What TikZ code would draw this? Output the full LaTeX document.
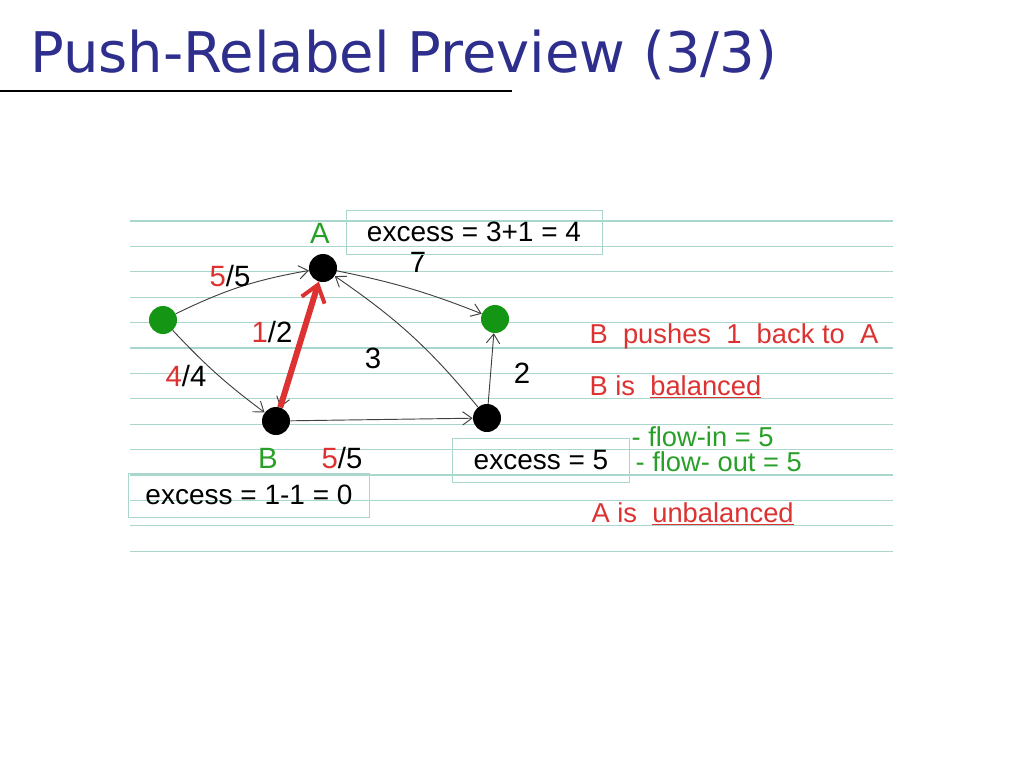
\documentclass[tikz,border=0pt]{standalone}
\usepackage{fontspec}
\setmainfont{Liberation Sans}
\newfontfamily\titlefont{DejaVu Sans}
\newfontfamily\handfont{Liberation Sans}
\usetikzlibrary{arrows.meta}
\definecolor{titleblue}{RGB}{46,46,140}
\definecolor{ruled}{RGB}{170,215,205}
\definecolor{hred}{RGB}{220,50,50}
\definecolor{hgreen}{RGB}{40,160,40}
\definecolor{dgreen}{RGB}{20,150,20}
\begin{document}
\begin{tikzpicture}[x=0.75pt,y=-0.75pt,
  vtx/.style={circle,fill=black,minimum size=21pt,inner sep=0},
  gvtx/.style={circle,fill=dgreen,minimum size=21pt,inner sep=0},
  edge/.style={draw=black!75,line width=0.7pt,-{Straight Barb[length=7pt,width=10pt]}},
  box/.style={draw=ruled,line width=0.6pt,font=\fontsize{21}{24}\selectfont,inner xsep=8pt,minimum height=33pt},
  hand/.style={font=\handfont\fontsize{20.5}{24}\selectfont,inner sep=1pt},
  lab/.style={font=\fontsize{22}{24}\selectfont,inner sep=1pt}]
\useasboundingbox (0,0) rectangle (1024,768);
\node[anchor=base west,text=titleblue,font=\titlefont\fontsize{42}{48}\selectfont,inner sep=0] (title) at (30,72) {Push-Relabel Preview (3/3)};
\draw[line width=1pt] (0,91) -- (512,91);
\foreach \y in {221,246.4,271.8,297.2,322.6,348,373.4,398.8,424.2,449.6,475,500.4,525.8,551.2}
  \draw[ruled,line width=0.8pt] (130,\y) -- (893,\y);
\node[vtx] (A) at (323,268) {};
\node[gvtx] (S) at (163,320) {};
\node[gvtx] (T) at (495,319) {};
\node[vtx] (B) at (276,421) {};
\node[vtx] (C) at (487,418) {};
\draw[edge] (S) to[bend left=8] (A);
\draw[edge] (S) to[bend left=-5] (B);
\draw[edge] (A) to[bend left=5] (T);
\draw[edge] (B) -- (C);
\draw[edge] (C) -- (T);
\draw[edge] (C) to[bend right=8] (A);
\draw[edge] (A) -- (B);
\draw[hred,line width=4.5pt,-{Straight Barb[length=12pt,width=18pt,line width=3pt]}] (B) -- (A);
\node[lab,text=hgreen] (la) at (320,233) {A};
\node[lab,text=hgreen] (lb) at (268,458) {B};
\node[lab] (l55a) at (230,276) {\textcolor{hred}{5}/5};
\node[lab] (l44) at (186,376) {\textcolor{hred}{4}/4};
\node[lab] (l12) at (272,332) {\textcolor{hred}{1}/2};
\node[lab] (l3) at (373,358) {3};
\node[lab] (l7) at (418,262) {7};
\node[lab] (l2) at (522,373) {2};
\node[lab] (l55b) at (342,458) {\textcolor{hred}{5}/5};
\node[box,minimum width=192pt] (bA) at (474,232) {excess = 3+1 = 4};
\node[box,minimum width=133pt] (bC) at (541,460) {excess = 5};
\node[box,minimum width=181pt] (bB) at (249,495) {excess = 1-1 = 0};
\node[hand,text=hred,anchor=west] (t1) at (588,336) {B\ \ pushes\ \ 1\ \ back\ to\ \ A};
\node[hand,text=hred,anchor=west] (t2) at (588,387) {B\ is\ \ \underline{balanced}};
\node[hand,text=hgreen,anchor=west] (t3) at (630,437) {- flow-in = 5};
\node[hand,text=hgreen,anchor=west] (t4) at (634,462) {- flow- out = 5};
\node[hand,text=hred,anchor=west] (t5) at (590,514) {A\ is\ \ \underline{unbalanced}};
\end{tikzpicture}
\end{document}
